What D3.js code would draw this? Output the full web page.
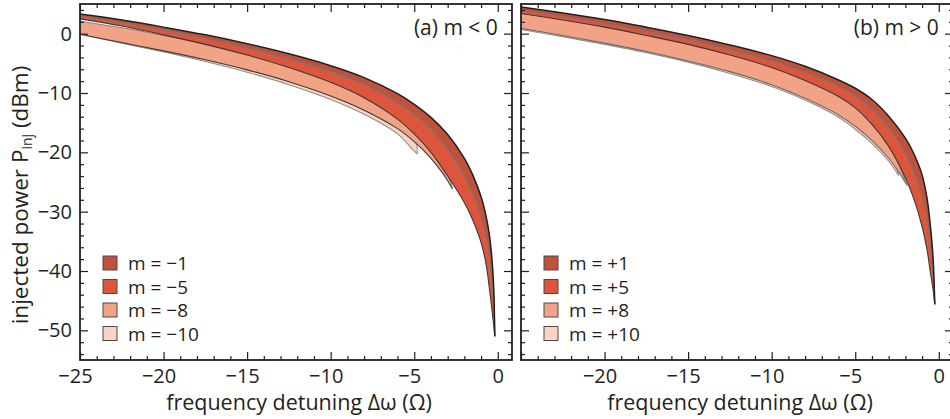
<!DOCTYPE html>
<html><head><meta charset="utf-8">
<script src="https://cdn.jsdelivr.net/npm/d3@7"></script>
<style>
body{margin:0;background:#fff}
svg{display:block}
text{font-family:"Open Sans",sans-serif;fill:#231f20}
</style>
</head><body>
<svg id="chart" width="950" height="419"></svg>
<script>
// ---------- DATA ----------
// Panel (a) m < 0
const gridA = [-25,-22.5,-20,-17.5,-15,-12.5,-10,-8,-6,-5,-4,-3,-2,-1.5,-1,-0.7,-0.5,-0.35,-0.25,-0.18];
const upperAm1  = [3.3,2.3,1.1,-0.2,-1.7,-3.4,-5.4,-7.4,-10.1,-11.9,-14.1,-17.0,-21.0,-23.8,-27.5,-30.8,-34.0,-38.0,-42.5,-51];
const lowerAm1  = [2.9,1.85,0.6,-0.8,-2.4,-4.25,-6.4,-8.6,-11.6,-13.6,-16.1,-19.5,-24.0,-27.0,-30.8,-34.1,-37.5,-41.5,-45.5,-51];
const upperAm5  = [3.1,2.1,0.9,-0.4,-1.9,-3.6,-5.7,-7.8,-10.6,-12.5,-14.8,-17.9,-22.0,-24.9,-28.6,-31.9,-35.2,-39.2,-43.5,-51];
const lowerAm5  = [2.5,1.3,-0.2,-1.8,-3.6,-5.7,-8.2,-10.8,-14.4,-16.9,-20.0,-24.0,-28.5,-31.4,-35.2,-38.9,-43.0,-46.5,-49.0,-51];
const gridAm8   = [-25,-22.5,-20,-17.5,-15,-12.5,-10,-8,-6,-5,-4,-3.3,-3.0,-2.7];
const upperAm8  = [2.1,1.0,-0.3,-1.7,-3.3,-5.1,-7.3,-9.6,-12.9,-15.0,-18.0,-21.2,-23.2,-26.2];
const lowerAm8  = [-0.1,-1.5,-2.9,-4.4,-6.1,-8.1,-10.5,-12.9,-16.0,-18.2,-21.0,-23.5,-24.8,-26.2];
const gridAm10  = [-25,-22.5,-20,-17.5,-15,-12.5,-10,-8,-6,-5.0,-4.8];
const upperAm10 = [1.9,0.8,-0.5,-1.9,-3.5,-5.4,-7.6,-9.9,-13.2,-17.2,-20.3];
const lowerAm10 = [-0.1,-1.6,-3.1,-4.7,-6.5,-8.6,-11.1,-13.6,-16.9,-19.8,-20.3];

// Panel (b) m > 0
const gridB = [-25,-22.5,-20,-17.5,-15,-12.5,-10,-8,-6,-5,-4,-3,-2,-1.5,-1,-0.7,-0.5,-0.35,-0.24];
const upperBp1  = [4.5,3.5,2.4,1.1,-0.3,-1.9,-3.7,-5.5,-7.8,-9.2,-11.1,-13.9,-17.6,-20.2,-23.8,-27.8,-32.5,-37.5,-45.6];
const lowerBp1  = [3.9,2.9,1.7,0.4,-1.0,-2.7,-4.6,-6.5,-8.9,-10.5,-12.7,-15.9,-20.2,-23.2,-27.3,-31.2,-35.5,-40.3,-45.6];
const upperBp5  = [4.3,3.3,2.2,0.9,-0.5,-2.1,-3.9,-5.7,-8.0,-9.5,-11.5,-14.3,-18.1,-20.8,-24.5,-28.5,-33.3,-38.3,-45.6];
const lowerBp5  = [3.4,2.3,1.1,-0.3,-1.8,-3.6,-5.7,-7.9,-10.6,-12.5,-15.3,-19.0,-24.3,-27.8,-32.5,-36.5,-40.3,-43.0,-45.6];
const gridBp8   = [-25,-22.5,-20,-17.5,-15,-12.5,-10,-8,-6,-5,-4,-3,-2.4,-1.9];
const upperBp8  = [3.6,2.5,1.3,0.0,-1.4,-3.1,-5.1,-7.2,-9.9,-11.8,-14.5,-18.2,-21.8,-25.6];
const lowerBp8  = [0.9,-0.3,-1.6,-3.0,-4.6,-6.4,-8.6,-10.9,-13.7,-15.6,-18.0,-21.0,-23.3,-25.6];
const gridBp10  = [-25,-22.5,-20,-17.5,-15,-12.5,-10,-8,-6,-5,-4,-3,-2.4];
const upperBp10 = [3.4,2.3,1.1,-0.2,-1.6,-3.3,-5.3,-7.4,-10.1,-12.1,-14.9,-18.7,-23.9];
const lowerBp10 = [0.7,-0.5,-1.8,-3.2,-4.8,-6.7,-8.9,-11.2,-14.1,-16.1,-18.5,-21.5,-23.9];

// Legend labels and ticks
const legendA = ["m = −1","m = −5","m = −8","m = −10"];
const legendB = ["m = +1","m = +5","m = +8","m = +10"];
const xMajorA = [-25,-20,-15,-10,-5,0];
const xMajorB = [-20,-15,-10,-5,0];
const yMajor  = [-50,-40,-30,-20,-10,0];

// ---------- STYLE ----------
const fillColors = ["#c0513a","#dd553a","#f2a386","#fad3c3"]; // |m| = 1,5,8,10
const plotTop = 4, plotBottom = 360, plotW = 432;
const panelLeftA = 80, panelLeftB = 521;
const ink = "#231f20";

const svg = d3.select("#chart");
const y = d3.scaleLinear().domain([-55,5]).range([plotBottom,plotTop]);
const fmt = d => d < 0 ? "\u2212" + Math.abs(d) : String(d);

function makeBands(gx1,u1,l1,gx5,u5,l5,gx8,u8,l8,gx10,u10,l10,lo8){
  const z = (gx,u,l) => gx.map((x,i)=>({x, u:u[i], l:l[i]}));
  return [
    {pts:z(gx10,u10,l10), fill:fillColors[3], up:"#9a9a9a", lo:"#8e8e8e"},
    {pts:z(gx8,u8,l8),    fill:fillColors[2], up:"#858585", lo:lo8},
    {pts:z(gx5,u5,l5),    fill:fillColors[1], up:"#7a7a7a", lo:"#3a3a3a"},
    {pts:z(gx1,u1,l1),    fill:fillColors[0], up:ink,       lo:"#777777"}
  ];
}

function drawPanel(id, left, bands, xMajor, showYLabels, legendTexts, label){
  const x = d3.scaleLinear().domain([-25,0.85]).range([left,left+plotW]);
  const g = svg.append("g");
  const clipId = "clip"+id;
  svg.append("clipPath").attr("id",clipId).append("rect")
    .attr("x",left).attr("y",plotTop).attr("width",plotW).attr("height",plotBottom-plotTop);
  const gp = g.append("g").attr("clip-path",`url(#${clipId})`);
  const curve = d3.curveCatmullRom.alpha(0.5);
  const area = d3.area().x(d=>x(d.x)).y0(d=>y(d.l)).y1(d=>y(d.u)).curve(curve);
  const lineU = d3.line().x(d=>x(d.x)).y(d=>y(d.u)).curve(curve);
  const lineL = d3.line().x(d=>x(d.x)).y(d=>y(d.l)).curve(curve);
  bands.forEach((b,i)=>{
    gp.append("path").attr("d",area(b.pts)).attr("fill",b.fill).attr("stroke","none");
    gp.append("path").attr("d",lineL(b.pts)).attr("fill","none").attr("stroke",b.lo).attr("stroke-width",1.1);
    gp.append("path").attr("d",lineU(b.pts)).attr("fill","none").attr("stroke",b.up)
      .attr("stroke-width", i===3 ? 1.5 : 1.1);
  });

  const xMinor = d3.range(-24,1,1).filter(v=>v%5!==0);
  const yMinor = d3.range(-54,5,2).filter(v=>v%10!==0);
  const styleAxis = sel => {
    sel.select(".domain").remove();
    sel.selectAll(".tick line").attr("stroke",ink).attr("stroke-width",1.2);
  };
  const xMajorAll = [-25,-20,-15,-10,-5,0];
  g.append("g").attr("transform",`translate(0,${plotBottom})`)
    .call(d3.axisBottom(x).tickValues(xMinor).tickSizeInner(-4).tickSizeOuter(0).tickFormat("")).call(styleAxis);
  const bx = g.append("g").attr("transform",`translate(0,${plotBottom})`)
    .call(d3.axisBottom(x).tickValues(xMajorAll).tickSizeInner(-8).tickSizeOuter(0).tickPadding(9).tickFormat(fmt)).call(styleAxis);
  bx.selectAll(".tick text").attr("font-size",20).attr("font-family","Open Sans, sans-serif").attr("fill",ink)
    .attr("dx", d => d<0 ? -5 : 0)
    .style("display", d => xMajor.includes(d) ? null : "none");
  g.append("g").attr("transform",`translate(0,${plotTop})`)
    .call(d3.axisTop(x).tickValues(xMinor).tickSizeInner(-4).tickSizeOuter(0).tickFormat("")).call(styleAxis);
  g.append("g").attr("transform",`translate(0,${plotTop})`)
    .call(d3.axisTop(x).tickValues(xMajorAll).tickSizeInner(-8).tickSizeOuter(0).tickFormat("")).call(styleAxis);

  g.append("g").attr("transform",`translate(${left},0)`)
    .call(d3.axisLeft(y).tickValues(yMinor).tickSizeInner(-4).tickSizeOuter(0).tickFormat("")).call(styleAxis);
  const ly = g.append("g").attr("transform",`translate(${left},0)`)
    .call(d3.axisLeft(y).tickValues(yMajor).tickSizeInner(-8).tickSizeOuter(0).tickPadding(8)
      .tickFormat(showYLabels ? fmt : "")).call(styleAxis);
  ly.selectAll(".tick text").attr("font-size",20).attr("font-family","Open Sans, sans-serif").attr("fill",ink);
  g.append("g").attr("transform",`translate(${left+plotW},0)`)
    .call(d3.axisRight(y).tickValues(yMinor).tickSizeInner(-4).tickSizeOuter(0).tickFormat("")).call(styleAxis);
  g.append("g").attr("transform",`translate(${left+plotW},0)`)
    .call(d3.axisRight(y).tickValues(yMajor).tickSizeInner(-8).tickSizeOuter(0).tickFormat("")).call(styleAxis);

  g.append("rect").attr("x",left).attr("y",plotTop).attr("width",plotW).attr("height",plotBottom-plotTop)
    .attr("fill","none").attr("stroke",ink).attr("stroke-width",1.8);

  g.append("text").attr("x",x(0)).attr("y",35).attr("text-anchor","end")
    .attr("font-size",21).text(label);

  const lg = g.append("g");
  legendTexts.forEach((t,i)=>{
    const cy = 263 + i*23.5;
    lg.append("rect").attr("x",left+23).attr("y",cy-7).attr("width",14).attr("height",14)
      .attr("fill",fillColors[i]).attr("stroke","#4a4a4a").attr("stroke-width",1);
    lg.append("text").attr("x",left+48).attr("y",cy+7).attr("font-size",19).text(t);
  });

  g.append("text").attr("x",left+plotW/2+3).attr("y",410).attr("text-anchor","middle").attr("font-size",21.5)
    .text("frequency detuning \u0394\u03c9 (\u03a9)");
}

drawPanel("A", panelLeftA,
  makeBands(gridA,upperAm1,lowerAm1,gridA,upperAm5,lowerAm5,gridAm8,upperAm8,lowerAm8,gridAm10,upperAm10,lowerAm10,"#3a3a3a"),
  xMajorA, true, legendA, "(a) m < 0");
drawPanel("B", panelLeftB,
  makeBands(gridB,upperBp1,lowerBp1,gridB,upperBp5,lowerBp5,gridBp8,upperBp8,lowerBp8,gridBp10,upperBp10,lowerBp10,"#6a6a6a"),
  xMajorB, false, legendB, "(b) m > 0");

const yt = svg.append("text").attr("transform","translate(28,195) rotate(-90)")
  .attr("text-anchor","middle").attr("font-size",22.5);
yt.append("tspan").text("injected power P");
yt.append("tspan").attr("font-size",14).attr("dy",4).text("inj");
yt.append("tspan").attr("dy",-4).text(" (dBm)");
</script>
</body></html>
